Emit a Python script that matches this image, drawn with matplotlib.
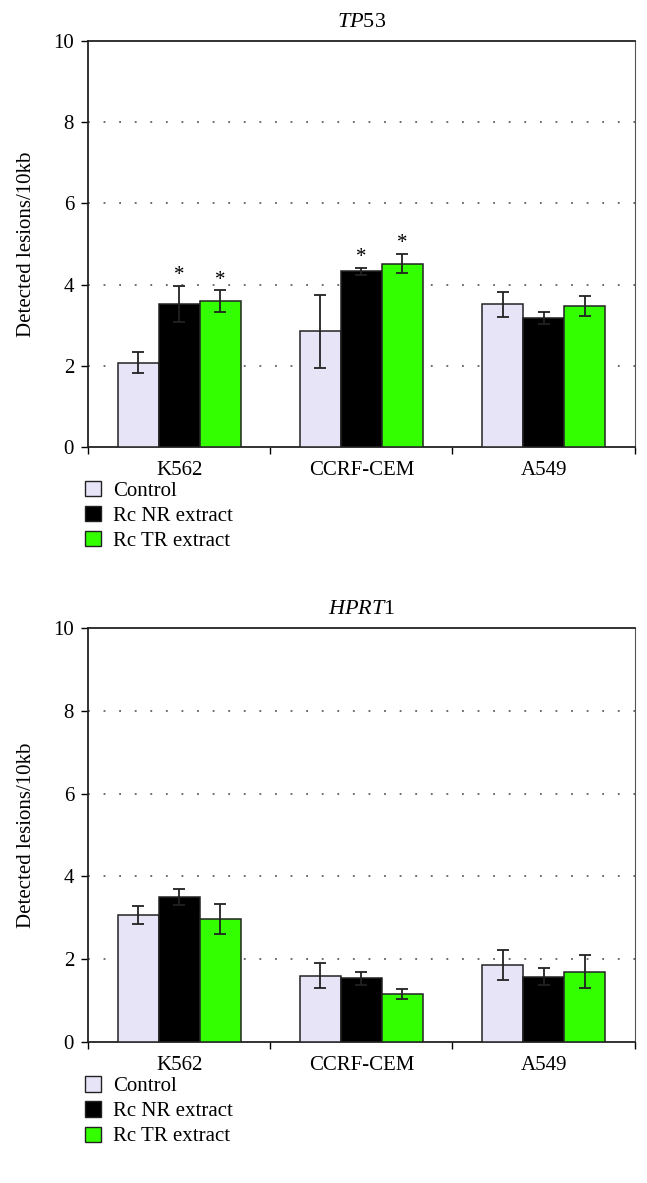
import numpy as np
import matplotlib
matplotlib.use("Agg")
import matplotlib.pyplot as plt
from matplotlib.patches import Patch

plt.rcParams['font.family'] = ['Liberation Serif', 'DejaVu Serif']
plt.rcParams['mathtext.fontset'] = 'custom'
plt.rcParams['mathtext.it'] = 'Liberation Serif:italic'
plt.rcParams['mathtext.rm'] = 'Liberation Serif'

cells = ['K562', 'CCRF-CEM', 'A549']
groups = ['Control', 'Rc NR extract', 'Rc TR extract']
colors = ['#e8e4f8', '#000000', '#33ff00']

# TP53
tp53_mean = [[2.08, 2.85, 3.52],
             [3.52, 4.33, 3.17],
             [3.59, 4.52, 3.47]]
tp53_err = [[0.26, 0.90, 0.31],
            [0.44, 0.09, 0.15],
            [0.27, 0.23, 0.25]]
tp53_star = [[False, False, False],
             [True, True, False],
             [True, True, False]]

# HPRT1
hprt_mean = [[3.06, 1.60, 1.86],
             [3.51, 1.54, 1.58],
             [2.98, 1.16, 1.70]]
hprt_err = [[0.22, 0.30, 0.37],
            [0.19, 0.16, 0.20],
            [0.36, 0.11, 0.39]]
hprt_star = [[False] * 3, [False] * 3, [False] * 3]

fig = plt.figure(figsize=(6.47, 11.83), dpi=100)
ax1 = fig.add_axes([0.136, 0.6221, 0.845, 0.3432])
ax2 = fig.add_axes([0.136, 0.1192, 0.845, 0.3500])


def draw(ax, mean, err, star, title):
    x = np.arange(len(cells))
    w = 0.225
    for i in range(3):
        pos = x + (i - 1) * w
        ax.bar(pos, mean[i], w, color=colors[i], edgecolor='#222222',
               linewidth=1.1, zorder=3)
        ax.errorbar(pos, mean[i], yerr=err[i], fmt='none', ecolor='#222222',
                    elinewidth=1.3, capsize=4.5, capthick=1.3, zorder=4)
        for j in range(3):
            if star[i][j]:
                ax.text(pos[j], mean[i][j] + err[i][j] + 0.02, '*',
                        ha='center', va='bottom', fontsize=15, zorder=5)
    ax.set_xlim(-0.5, 2.5)
    ax.set_ylim(0, 10)
    ax.set_yticks([0, 2, 4, 6, 8, 10])
    for g in [2, 4, 6, 8]:
        ax.axhline(g, color='#444444', linestyle=(0, (1.2, 9)), linewidth=1.1,
                   zorder=1)
    ax.set_xticks(x)
    ax.set_xticklabels(cells, fontsize=15)
    ax.tick_params(axis='x', length=0, pad=10)
    ax.set_xticks([-0.5, 0.5, 1.5, 2.5], minor=True)
    ax.tick_params(axis='x', which='minor', length=5, width=1, direction='out')
    ax.tick_params(axis='y', labelsize=15, length=5, width=1, direction='out',
                   pad=5)
    ax.set_ylabel('Detected lesions/10kb', fontsize=15)
    ax.yaxis.set_label_coords(-0.095, 0.5)
    ax.set_title(title, fontsize=16, pad=10)
    for s in ['top', 'bottom', 'left']:
        ax.spines[s].set_linewidth(1.3)
        ax.spines[s].set_color('#222222')
    ax.spines['right'].set_linewidth(0.8)
    ax.spines['right'].set_color('#555555')
    handles = [Patch(facecolor=c, edgecolor='#222222', linewidth=1.0) for c in colors]
    ax.legend(handles, groups, loc='upper left', bbox_to_anchor=(-0.005, -0.083),
              frameon=False, fontsize=15, handlelength=0.75, handleheight=0.75,
              handletextpad=0.6, labelspacing=0.25, borderaxespad=0,
              borderpad=0)


draw(ax1, tp53_mean, tp53_err, tp53_star, r'$\mathit{TP}$53')
draw(ax2, hprt_mean, hprt_err, hprt_star, r'$\mathit{HPRT}$1')

fig.savefig('out.png', dpi=100)
